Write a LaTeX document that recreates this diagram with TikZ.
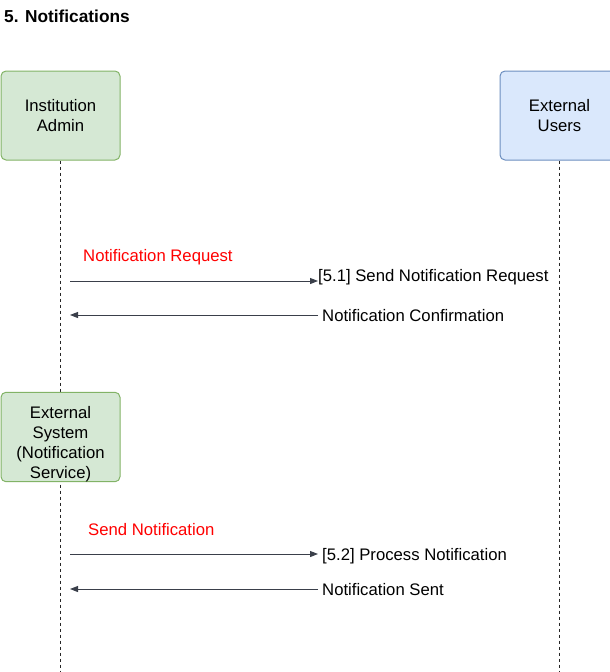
\documentclass[tikz,border=0pt]{standalone}
\usepackage{fontspec}
\setmainfont{Liberation Sans}
\usetikzlibrary{arrows.meta,backgrounds}
\definecolor{greenfill}{HTML}{D5E8D4}
\definecolor{greenline}{HTML}{82B366}
\definecolor{bluefill}{HTML}{DAE8FC}
\definecolor{blueline}{HTML}{6C8EBF}
\definecolor{arrowcol}{HTML}{3A3F4A}
\definecolor{redtext}{HTML}{FF0000}
\tikzset{
 actor/.style={draw, rounded corners=5pt, line width=1pt, minimum width=119pt, minimum height=89pt, align=center, inner sep=0pt, font=\fontsize{16.7}{20}\selectfont},
 greenbox/.style={actor, fill=greenfill, draw=greenline},
 bluebox/.style={actor, fill=bluefill, draw=blueline},
 lifeline/.style={draw=black!85, dash pattern=on 3pt off 3pt, line width=0.8pt},
 msg/.style={draw=arrowcol, line width=1pt, -{Triangle[length=8pt,width=6pt]}},
 msglabel/.style={anchor=base west, inner sep=0pt, font=\fontsize{16.7}{20}\selectfont},
 redlabel/.style={msglabel, text=redtext},
 titlestyle/.style={anchor=base west, inner sep=0pt, font=\bfseries\fontsize{17.3}{20}\selectfont},
}
\begin{document}
\begin{tikzpicture}[x=1pt,y=-1pt]
\useasboundingbox (0,0) rectangle (610,672);
\node[titlestyle] (title) at (4,22) {5. Notifications};
\node[greenbox] (admin) at (60.5,115.5) {Institution\\Admin};
\node[bluebox] (users) at (559.5,115.5) {External\\Users};
\node[greenbox] (sys) at (60.5,437) {\rule{0pt}{26pt}External\\System\\(Notification\\Service)};
\coordinate (adminEnd) at (60.5,672);
\coordinate (usersEnd) at (559.5,672);
\begin{scope}[on background layer]
\draw[lifeline] (admin.south) -- (adminEnd);
\draw[lifeline] (users.south) -- (usersEnd);
\end{scope}
% message 1
\coordinate (m1s) at (70,281);
\coordinate (m1e) at (318,281);
\draw[msg] (m1s) -- (m1e);
\node[redlabel] (l1r) at (83,261) {Notification Request};
\node[msglabel] (l1) at (318,281) {[5.1] Send Notification Request};
% message 2
\coordinate (m2s) at (318,315);
\coordinate (m2e) at (70,315);
\draw[msg] (m2s) -- (m2e);
\node[msglabel] (l2) at (322,321) {Notification Confirmation};
% message 3
\coordinate (m3s) at (70,554);
\coordinate (m3e) at (318,554);
\draw[msg] (m3s) -- (m3e);
\node[redlabel] (l3r) at (88,535.5) {Send Notification};
\node[msglabel] (l3) at (322,560) {[5.2] Process Notification};
% message 4
\coordinate (m4s) at (318,589);
\coordinate (m4e) at (70,589);
\draw[msg] (m4s) -- (m4e);
\node[msglabel] (l4) at (322,595) {Notification Sent};
\end{tikzpicture}
\end{document}
